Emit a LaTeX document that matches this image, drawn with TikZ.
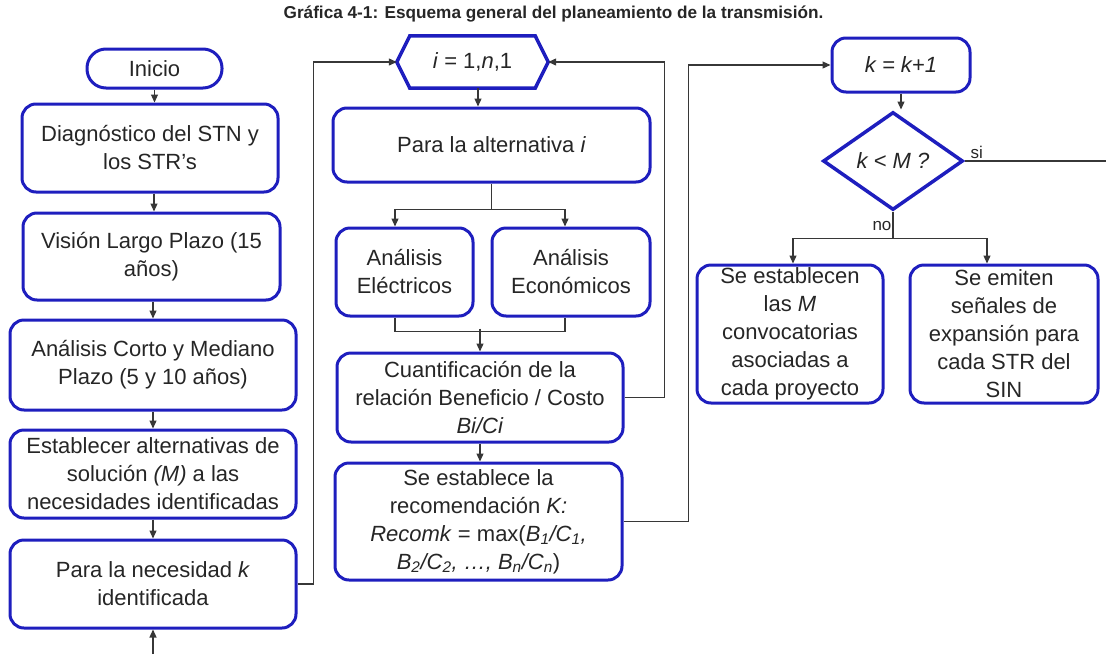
\documentclass[tikz,border=0pt]{standalone}
\usepackage{fontspec}
\setmainfont{Liberation Sans}
\usetikzlibrary{shapes.geometric,arrows.meta}
\definecolor{boxblue}{RGB}{30,30,190}
\definecolor{linegray}{RGB}{55,55,55}
\begin{document}
\begin{tikzpicture}[x=1pt,y=-1pt,
  proc/.style={draw=boxblue, line width=3pt, rounded corners=14pt, fill=white,
    align=center, font=\fontsize{22}{28}\selectfont, inner sep=0pt, text=black!85},
  conn/.style={draw=linegray, line width=1.2pt},
  arr/.style={conn, -{Triangle[length=8pt,width=7pt]}},
  lbl/.style={font=\fontsize{17}{20}\selectfont, text=black!85, inner sep=1pt}
  ]
\useasboundingbox (0,0) rectangle (1106,654);
\node[font=\fontsize{17.2}{20}\selectfont\bfseries, text=black!85] (title) at (553.5,14)
  {Gráfica 4-1: Esquema general del planeamiento de la transmisión.};
% left column
\node[proc, rounded corners=19pt, minimum width=135, minimum height=39] (inicio) at (154.5,68.5) {Inicio};
\node[proc, minimum width=256, minimum height=88] (diag) at (150,148) {Diagnóstico del STN y\\los STR’s};
\node[proc, minimum width=257, minimum height=87] (vision) at (151.5,256.5) {Visión Largo Plazo (15\\años)};
\node[proc, minimum width=286, minimum height=90] (corto) at (153,365) {Análisis Corto y Mediano\\Plazo (5 y 10 años)};
\node[proc, minimum width=286, minimum height=88] (estab) at (153,474) {Establecer alternativas de\\solución \textit{(M)} a las\\necesidades identificadas};
\node[proc, minimum width=286, minimum height=88] (neces) at (153,584) {Para la necesidad \textit{k}\\identificada};
\coordinate (bottomin) at (153,654);
% middle column
\node[minimum width=151, minimum height=52, inner sep=0pt] (hex) at (472.5,62) {};
\draw[draw=boxblue, line width=3.5pt, line join=miter, fill=white]
  (hex.west) -- ([xshift=13pt]hex.north west) -- ([xshift=-13pt]hex.north east) --
  (hex.east) -- ([xshift=-13pt]hex.south east) -- ([xshift=13pt]hex.south west) -- cycle;
\node[inner sep=0pt, font=\fontsize{22}{28}\selectfont, text=black!85] (hextext) at (hex.center) {\textit{i} = 1,\textit{n},1};
\node[proc, minimum width=317, minimum height=74] (alt) at (491.5,145) {Para la alternativa \textit{i}};
\node[proc, minimum width=137, minimum height=88] (elec) at (404.5,272) {Análisis\\Eléctricos};
\node[proc, minimum width=158, minimum height=88] (econ) at (571,272) {Análisis\\Económicos};
\node[proc, minimum width=286, minimum height=89] (cuant) at (480,397.5) {Cuantificación de la\\relación Beneficio / Costo\\\textit{Bi/Ci}};
\node[proc, minimum width=287, minimum height=117] (recom) at (478.5,521.5)
  {Se establece la\\recomendación \textit{K:}\\\textit{Recomk} = max(\textit{B\textsubscript{1}/C\textsubscript{1},}\\\textit{B\textsubscript{2}/C\textsubscript{2}, …, B\textsubscript{n}/C\textsubscript{n}})};
% right part
\node[proc, minimum width=138, minimum height=54] (kk) at (901,65) {\textit{k = k+1}};
\node[diamond, draw=boxblue, line width=3.5pt, fill=white, inner sep=0pt, minimum width=140, minimum height=98,
  font=\fontsize{22}{28}\selectfont, text=black!85] (dia) at (893,161) {\textit{k < M ?}};
\node[proc, minimum width=186, minimum height=138] (conv) at (790,334)
  {Se establecen\\las \textit{M}\\convocatorias\\asociadas a\\cada proyecto};
\node[proc, minimum width=188, minimum height=138] (senal) at (1004,334)
  {Se emiten\\señales de\\expansión para\\cada STR del\\SIN};
\coordinate (siend) at (1106,161);
% connectors left
\draw[arr] (inicio.south) -- (inicio.south |- diag.north);
\draw[arr] ([xshift=4pt]diag.south) -- ([xshift=4pt]diag.south |- vision.north);
\draw[arr] ([xshift=1.5pt]vision.south) -- ([xshift=1.5pt]vision.south |- corto.north);
\draw[arr] (corto.south) -- (estab.north);
\draw[arr] (estab.south) -- (neces.north);
\draw[arr] (bottomin) -- (neces.south);
\draw[arr] (neces.east) -- ++(16,0) |- (hex.west);
% connectors middle
\draw[arr] ([xshift=5.5pt]hex.south) -- ([xshift=5.5pt]hex.south |- alt.north);
\draw[conn] (alt.south) -- ++(0,26) coordinate (split);
\draw[arr] (split) -| ([xshift=-9.5pt]elec.north);
\draw[arr] (split) -| ([xshift=-6pt]econ.north);
\draw[conn] ([xshift=-9.5pt]elec.south) -- ([xshift=-9.5pt,yshift=-14pt]elec.south) -| ([xshift=-6pt]econ.south);
\draw[arr] ([yshift=23pt]cuant.north) -- (cuant.north);
\draw[arr] (cuant.south) -- (cuant.south |- recom.north);
\draw[arr] (cuant.east) -- ++(40,0) |- (hex.east);
\draw[arr] (recom.east) -- ++(65,0) |- (kk.west);
% connectors right
\draw[arr] (kk.south) -- ([yshift=-16pt]kk.south);
\draw[conn] (dia.east) -- node[lbl, pos=0.03, anchor=south west, yshift=1pt] {si} (siend);
\draw[conn] (dia.south) -- ++(0,27) coordinate (nosplit) node[lbl, pos=0.55, left, yshift=1pt] {no};
\draw[arr] (nosplit) -| ([xshift=3pt]conv.north);
\draw[arr] (nosplit) -| ([xshift=-17pt]senal.north);
\end{tikzpicture}
\end{document}
